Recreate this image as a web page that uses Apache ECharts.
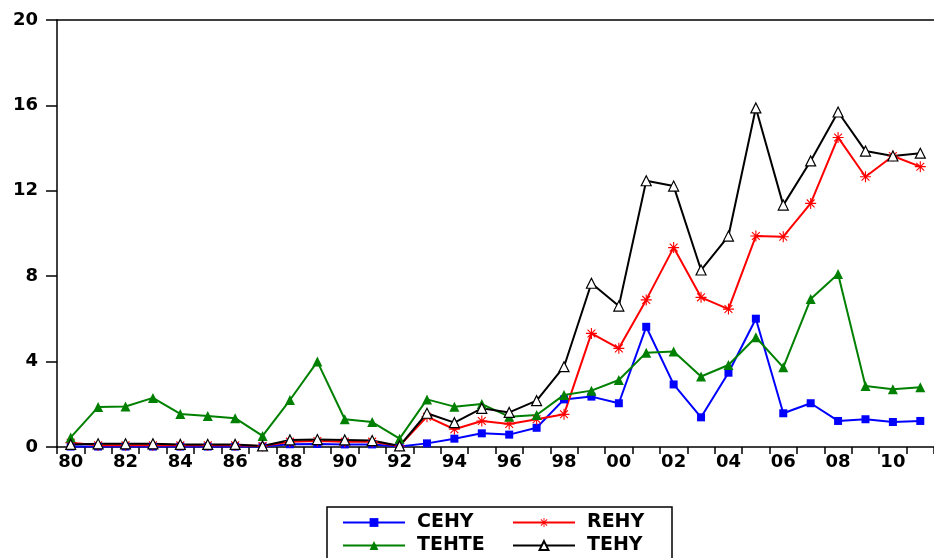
<!DOCTYPE html>
<html>
<head>
<meta charset="utf-8">
<script src="https://cdn.jsdelivr.net/npm/echarts@6/dist/echarts.min.js"></script>
<style>
  html, body { margin: 0; padding: 0; background: #fff; }
  #chart { width: 934px; height: 558px; }
</style>
</head>
<body>
<div id="chart"></div>
<script>
// years 1980 - 2011
var years = ['80','81','82','83','84','85','86','87','88','89','90','91','92','93','94','95',
             '96','97','98','99','00','01','02','03','04','05','06','07','08','09','10','11']

var cehy  = [0.02,0.02,0.02,0.02,0.02,0.02,0.02,0.02,0.13,0.14,0.12,0.12,0.02,0.17,0.39,0.64,
             0.58,0.90,2.23,2.36,2.05,5.63,2.93,1.39,3.48,6.01,1.58,2.05,1.22,1.30,1.17,1.22]
var rehy  = [0.20,0.08,0.08,0.08,0.08,0.08,0.08,0.05,0.25,0.28,0.25,0.25,0.05,1.42,0.83,1.22,
             1.08,1.30,1.53,5.32,4.62,6.89,9.34,7.01,6.46,9.88,9.85,11.41,14.50,12.66,13.63,13.13]
var tehte = [0.45,1.87,1.90,2.30,1.55,1.45,1.35,0.52,2.20,4.00,1.30,1.17,0.39,2.23,1.89,2.01,
             1.42,1.50,2.44,2.64,3.14,4.42,4.47,3.30,3.84,5.14,3.73,6.93,8.10,2.86,2.70,2.80]
var tehy  = [0.12,0.15,0.15,0.15,0.12,0.12,0.12,0.05,0.33,0.35,0.33,0.30,0.05,1.58,1.14,1.81,
             1.62,2.17,3.76,7.67,6.60,12.47,12.22,8.29,9.88,15.88,11.33,13.40,15.69,13.86,13.63,13.76]

var yTicks = [0, 4, 8, 12, 16, 20]

var font = 'DejaVu Sans'
var star = 'path://M9,0h2v20h-2z M0,9h20v2h-20z M2.2,3.6l1.4,-1.4l14.2,14.2l-1.4,1.4z M16.4,2.2l1.4,1.4l-14.2,14.2l-1.4,-1.4z'

function legendItem(name, left, top) {
    return {
        data: [name],
        left: left,
        top: top,
        padding: 0,
        itemWidth: 62,
        itemHeight: 11,
        selectedMode: false,
        textStyle: { fontFamily: font, fontWeight: 'bold', fontSize: 19, color: '#000', padding: [0, 0, 0, 7] }
    }
}

var chart = echarts.init(document.getElementById('chart'))
var option = {
    backgroundColor: '#fff',
    animation: false,
    grid: { left: 57, top: 20, right: -10, bottom: 111, containLabel: false },
    xAxis: [
        {
            type: 'category',
            data: years,
            boundaryGap: true,
            axisLine: { lineStyle: { color: '#000', width: 1.5 } },
            axisTick: { show: true, interval: 0, length: 7, lineStyle: { color: '#000', width: 1.5 } },
            axisLabel: { interval: 1, color: '#000', fontFamily: font, fontWeight: 'bold', fontSize: 18, margin: 6 },
            splitLine: { show: false }
        },
        {
            type: 'category',
            data: years,
            position: 'top',
            axisLine: { lineStyle: { color: '#000', width: 1.5 } },
            axisTick: { show: false },
            axisLabel: { show: false }
        }
    ],
    yAxis: {
        type: 'value',
        min: yTicks[0],
        max: yTicks[yTicks.length - 1],
        interval: 4,
        axisLine: { show: true, lineStyle: { color: '#000', width: 1.5 } },
        axisTick: { show: true, length: 11, lineStyle: { color: '#000', width: 1.5 } },
        axisLabel: { color: '#000', fontFamily: font, fontWeight: 'bold', fontSize: 18, margin: 19 },
        splitLine: { show: false }
    },
    legend: [
        legendItem('CEHY', 342, 513),
        legendItem('REHY', 512, 513),
        legendItem('TEHTE', 342, 536),
        legendItem('TEHY', 512, 536)
    ],
    graphic: [{
        type: 'rect',
        shape: { x: 327, y: 507, width: 345, height: 70 },
        style: { fill: 'none', stroke: '#000', lineWidth: 1.5 }
    }],
    series: [
        {
            name: 'CEHY', type: 'line', data: cehy,
            symbol: 'rect', symbolSize: 8,
            lineStyle: { color: '#0000ff', width: 2 },
            itemStyle: { color: '#0000ff' }
        },
        {
            name: 'REHY', type: 'line', data: rehy,
            symbol: star, symbolSize: 11,
            lineStyle: { color: '#ff0000', width: 2 },
            itemStyle: { color: '#ff0000' }
        },
        {
            name: 'TEHTE', type: 'line', data: tehte,
            symbol: 'triangle', symbolSize: 10,
            lineStyle: { color: '#008000', width: 2 },
            itemStyle: { color: '#008000' }
        },
        {
            name: 'TEHY', type: 'line', data: tehy,
            symbol: 'triangle', symbolSize: 10,
            lineStyle: { color: '#000', width: 2 },
            itemStyle: { color: '#fff', borderColor: '#000', borderWidth: 1.2 }
        }
    ]
}
chart.setOption(option)
</script>
</body>
</html>
